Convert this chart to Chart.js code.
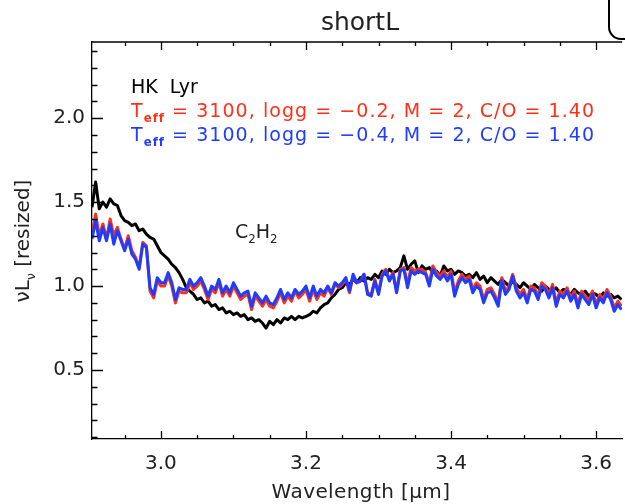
<!DOCTYPE html>
<html>
<head>
<meta charset="utf-8">
<script src="https://cdn.jsdelivr.net/npm/chart.js@4.4.0/dist/chart.umd.min.js"></script>
<style>
  html, body { margin: 0; padding: 0; background: #fff; overflow: hidden; }
  #wrap { width: 625px; height: 504px; }
</style>
</head>
<body>
<div id="wrap"><canvas id="specChart" width="625" height="504"></canvas></div>
<script>
// wavelength grid in micron
const wavelength = [
  2.905, 2.910, 2.915, 2.920, 2.925, 2.930, 2.935, 2.940, 2.945, 2.950,
  2.955, 2.960, 2.965, 2.970, 2.975, 2.980, 2.985, 2.990, 2.995, 3.000,
  3.005, 3.010, 3.015, 3.020, 3.025, 3.030, 3.035, 3.040, 3.045, 3.050,
  3.055, 3.060, 3.065, 3.070, 3.075, 3.080, 3.085, 3.090, 3.095, 3.100,
  3.105, 3.110, 3.115, 3.120, 3.125, 3.130, 3.135, 3.140, 3.145, 3.150,
  3.155, 3.160, 3.165, 3.170, 3.175, 3.180, 3.185, 3.190, 3.195, 3.200,
  3.205, 3.210, 3.215, 3.220, 3.225, 3.230, 3.235, 3.240, 3.245, 3.250,
  3.255, 3.260, 3.265, 3.270, 3.275, 3.280, 3.285, 3.290, 3.295, 3.300,
  3.305, 3.310, 3.315, 3.320, 3.325, 3.330, 3.335, 3.340, 3.345, 3.350,
  3.355, 3.360, 3.365, 3.370, 3.375, 3.380, 3.385, 3.390, 3.395, 3.400,
  3.405, 3.410, 3.415, 3.420, 3.425, 3.430, 3.435, 3.440, 3.445, 3.450,
  3.455, 3.460, 3.465, 3.470, 3.475, 3.480, 3.485, 3.490, 3.495, 3.500,
  3.505, 3.510, 3.515, 3.520, 3.525, 3.530, 3.535, 3.540, 3.545, 3.550,
  3.555, 3.560, 3.565, 3.570, 3.575, 3.580, 3.585, 3.590, 3.595, 3.600,
  3.605, 3.610, 3.615, 3.620, 3.625, 3.630, 3.635
];

// observed spectrum, HK Lyr
const hkLyr = [
  1.47, 1.62, 1.46, 1.50, 1.47, 1.52, 1.49, 1.48, 1.42, 1.39,
  1.38, 1.36, 1.37, 1.33, 1.34, 1.31, 1.29, 1.28, 1.24, 1.20,
  1.18, 1.16, 1.13, 1.11, 1.08, 1.04, 0.99, 0.97, 0.95, 0.92,
  0.93, 0.90, 0.91, 0.88, 0.89, 0.86, 0.87, 0.84, 0.85, 0.83,
  0.84, 0.82, 0.83, 0.80, 0.81, 0.79, 0.80, 0.78, 0.75, 0.79,
  0.77, 0.80, 0.78, 0.81, 0.80, 0.82, 0.80, 0.82, 0.81, 0.82,
  0.83, 0.85, 0.84, 0.87, 0.89, 0.90, 0.93, 0.95, 0.98, 0.99,
  1.02, 1.01, 1.04, 1.02, 1.05, 1.03, 1.05, 1.04, 1.07, 1.05,
  1.09, 1.07, 1.10, 1.08, 1.09, 1.11, 1.18, 1.10, 1.13, 1.15,
  1.08, 1.12, 1.10, 1.11, 1.08, 1.09, 1.06, 1.12, 1.09, 1.10,
  1.07, 1.09, 1.08, 1.06, 1.07, 1.05, 1.08, 1.04, 1.06, 1.02,
  1.05, 1.03, 1.01, 1.04, 1.02, 1.00, 1.03, 1.01, 0.99, 1.02,
  1.00, 0.98, 1.01, 0.99, 0.97, 1.00, 0.98, 0.97, 0.99, 0.96,
  0.98, 0.97, 0.95, 0.98, 0.96, 0.95, 0.97, 0.94, 0.96, 0.95,
  0.93, 0.96, 0.94, 0.95, 0.93, 0.94, 0.92
];

// model, Teff 3100, logg -0.2
const modelLoggM02 = [
  1.31, 1.43, 1.30, 1.37, 1.28, 1.40, 1.30, 1.35, 1.28, 1.22,
  1.30, 1.21, 1.17, 1.11, 1.26, 1.24, 0.97, 0.93, 1.03, 1.00,
  1.00, 1.06, 1.00, 0.90, 0.97, 0.96, 0.96, 1.02, 0.98, 1.00,
  1.03, 0.98, 0.92, 0.98, 0.96, 1.02, 0.94, 0.98, 0.94, 1.00,
  0.96, 0.92, 0.94, 0.95, 0.86, 0.94, 0.91, 0.88, 0.92, 0.88,
  0.87, 0.91, 0.96, 0.90, 0.94, 0.91, 0.97, 0.93, 0.95, 0.98,
  0.91, 0.98, 0.92, 0.96, 0.94, 0.99, 0.95, 1.01, 0.99, 1.01,
  1.04, 0.96, 1.06, 1.02, 1.03, 1.07, 0.96, 0.95, 1.04, 0.96,
  1.07, 1.10, 1.04, 1.08, 0.97, 1.10, 1.11, 1.01, 1.11, 1.09,
  1.10, 1.10, 1.08, 1.02, 1.12, 1.08, 1.06, 1.09, 1.05, 1.09,
  0.96, 1.03, 1.07, 1.04, 1.06, 0.98, 1.02, 1.00, 0.92, 0.98,
  0.99, 0.95, 0.90, 1.05, 0.97, 1.00, 1.07, 0.99, 0.95, 0.98,
  0.92, 1.00, 0.99, 0.94, 1.02, 1.00, 0.95, 1.01, 0.90, 0.97,
  0.95, 0.99, 0.93, 0.97, 0.89, 0.97, 0.94, 0.91, 0.97, 0.89,
  0.95, 0.92, 0.98, 0.94, 0.87, 0.91, 0.88
];

// model, Teff 3100, logg -0.4
const modelLoggM04 = [
  1.28, 1.39, 1.27, 1.35, 1.27, 1.37, 1.25, 1.33, 1.27, 1.21,
  1.28, 1.19, 1.16, 1.10, 1.25, 1.23, 0.99, 0.95, 1.05, 1.02,
  1.02, 1.08, 1.02, 0.92, 0.99, 0.98, 0.98, 1.04, 1.00, 1.02,
  1.05, 1.00, 0.94, 1.00, 0.98, 1.04, 0.96, 1.00, 0.96, 1.02,
  0.98, 0.94, 0.96, 0.97, 0.88, 0.96, 0.93, 0.90, 0.94, 0.90,
  0.89, 0.93, 0.98, 0.92, 0.96, 0.93, 0.98, 0.95, 0.97, 1.00,
  0.93, 1.00, 0.94, 0.98, 0.96, 1.00, 0.96, 1.02, 1.00, 1.02,
  1.05, 0.97, 1.07, 1.02, 1.03, 1.07, 0.95, 0.94, 1.03, 0.95,
  1.06, 1.09, 1.03, 1.07, 0.96, 1.09, 1.10, 0.99, 1.09, 1.07,
  1.09, 1.08, 1.07, 1.00, 1.10, 1.06, 1.04, 1.07, 1.03, 1.07,
  0.94, 1.01, 1.05, 1.02, 1.04, 0.96, 1.00, 0.98, 0.90, 0.96,
  0.97, 0.93, 0.88, 1.03, 0.95, 0.98, 1.06, 0.97, 0.93, 0.96,
  0.90, 0.98, 0.97, 0.92, 1.00, 0.98, 0.93, 0.99, 0.88, 0.95,
  0.93, 0.97, 0.91, 0.95, 0.87, 0.95, 0.92, 0.89, 0.95, 0.87,
  0.93, 0.90, 0.96, 0.92, 0.85, 0.89, 0.86
];

const xMajorTicks = [3.0, 3.2, 3.4, 3.6];
const xMinorTicks = [2.95, 3.05, 3.1, 3.15, 3.25, 3.3, 3.35, 3.45, 3.5, 3.55];
const yMajorTicks = [0.5, 1.0, 1.5, 2.0];
const yMinorTicks = [0.1, 0.2, 0.3, 0.4, 0.6, 0.7, 0.8, 0.9, 1.1, 1.2, 1.3, 1.4,
  1.6, 1.7, 1.8, 1.9, 2.1, 2.2, 2.3, 2.4];

const FONT = '"DejaVu Sans", sans-serif';
const RED = '#ff3019';
const BLUE = '#1f3cff';
const INK = '#222';

function toPoints(ys) {
  return wavelength.map((x, i) => ({ x: x, y: ys[i] }));
}

// draws text with optional subscript parts, returns end x
function drawRich(ctx, parts, x, y, size, color, spacing) {
  ctx.fillStyle = color;
  ctx.textAlign = 'left';
  ctx.textBaseline = 'alphabetic';
  ctx.letterSpacing = (spacing || 0) + 'px';
  let cx = x;
  parts.forEach((p) => {
    const s = p.sub ? size * 0.62 : size;
    ctx.font = (p.bold ? 'bold ' : '') + s + 'px ' + FONT;
    ctx.fillText(p.t, cx, p.sub ? y + size * 0.28 : y);
    cx += ctx.measureText(p.t).width;
  });
  ctx.letterSpacing = '0px';
  return cx;
}

function richWidth(ctx, parts, size) {
  let w = 0;
  parts.forEach((p) => {
    const s = p.sub ? size * 0.62 : size;
    ctx.font = (p.bold ? 'bold ' : '') + s + 'px ' + FONT;
    w += ctx.measureText(p.t).width;
  });
  return w;
}

const decorPlugin = {
  id: 'decor',
  afterDraw(chart) {
    const ctx = chart.ctx;
    const area = chart.chartArea;
    const xs = chart.scales.x;
    const ys = chart.scales.y;
    ctx.save();

    // top axis line and inward ticks (IDL style)
    ctx.strokeStyle = '#000';
    ctx.lineWidth = 1.3;
    ctx.beginPath();
    ctx.moveTo(area.left, area.top);
    ctx.lineTo(area.right, area.top);
    xMajorTicks.forEach((v) => {
      const px = Math.round(xs.getPixelForValue(v)) + 0.5;
      ctx.moveTo(px, area.bottom); ctx.lineTo(px, area.bottom - 8);
      ctx.moveTo(px, area.top); ctx.lineTo(px, area.top + 8);
    });
    xMinorTicks.forEach((v) => {
      const px = Math.round(xs.getPixelForValue(v)) + 0.5;
      ctx.moveTo(px, area.bottom); ctx.lineTo(px, area.bottom - 4);
      ctx.moveTo(px, area.top); ctx.lineTo(px, area.top + 4);
    });
    yMajorTicks.forEach((v) => {
      const py = Math.round(ys.getPixelForValue(v)) + 0.5;
      ctx.moveTo(area.left, py); ctx.lineTo(area.left + 11, py);
    });
    yMinorTicks.forEach((v) => {
      const py = Math.round(ys.getPixelForValue(v)) + 0.5;
      ctx.moveTo(area.left, py); ctx.lineTo(area.left + 5.5, py);
    });
    ctx.stroke();

    // rounded corner of the neighbouring panel
    ctx.lineWidth = 2;
    ctx.beginPath();
    ctx.moveTo(609, 0);
    ctx.lineTo(609, 27);
    ctx.arcTo(609, 39, 621, 39, 12);
    ctx.lineTo(626, 39);
    ctx.stroke();

    // title
    ctx.fillStyle = INK;
    ctx.font = '25px ' + FONT;
    ctx.textAlign = 'center';
    ctx.textBaseline = 'alphabetic';
    ctx.fillText('shortL', 360, 30);

    // x axis title
    ctx.font = '20px ' + FONT;
    ctx.letterSpacing = '0.4px';
    ctx.fillText('Wavelength [\u03bcm]', 361, 498);
    ctx.letterSpacing = '0px';

    // y axis title, rotated
    const yTitle = [{ t: '\u03bdL' }, { t: '\u03bd', sub: true }, { t: ' [resized]' }];
    ctx.save();
    ctx.translate(29, 241);
    ctx.rotate(-Math.PI / 2);
    const w = richWidth(ctx, yTitle, 20);
    drawRich(ctx, yTitle, -w / 2, 0, 20, INK);
    ctx.restore();

    // legend text
    drawRich(ctx, [{ t: 'HK  Lyr' }], 131, 93, 19, '#000');
    drawRich(ctx, [{ t: 'T' }, { t: 'eff', sub: true, bold: true },
      { t: ' = 3100, logg = \u22120.2, M = 2, C/O = 1.40' }], 131, 117, 19, RED, 1.05);
    drawRich(ctx, [{ t: 'T' }, { t: 'eff', sub: true, bold: true },
      { t: ' = 3100, logg = \u22120.4, M = 2, C/O = 1.40' }], 131, 141, 19, BLUE, 1.05);

    // molecule label
    drawRich(ctx, [{ t: 'C' }, { t: '2', sub: true }, { t: 'H' }, { t: '2', sub: true }],
      235, 238, 19, INK);

    ctx.restore();
  }
};

const ctx = document.getElementById('specChart').getContext('2d');
new Chart(ctx, {
  type: 'line',
  data: {
    datasets: [
      { label: 'logg -0.4', data: toPoints(modelLoggM04), borderColor: BLUE, order: 1 },
      { label: 'logg -0.2', data: toPoints(modelLoggM02), borderColor: RED, order: 2 },
      { label: 'HK Lyr', data: toPoints(hkLyr), borderColor: '#000', order: 3 },
    ],
  },
  options: {
    responsive: false,
    animation: false,
    layout: { padding: { top: 42, right: 0, left: 0, bottom: 0 } },
    elements: {
      line: { borderWidth: 3, tension: 0, borderJoinStyle: 'round' },
      point: { radius: 0 },
    },
    plugins: {
      legend: { display: false },
      tooltip: { enabled: false },
      title: { display: false },
    },
    scales: {
      x: {
        type: 'linear',
        min: 2.905,
        max: 3.636,
        grid: { display: false, drawTicks: false },
        border: { display: true, color: '#000', width: 1.3 },
        afterBuildTicks: (scale) => {
          scale.ticks = xMajorTicks.map((v) => ({ value: v }));
        },
        afterFit: (scale) => { scale.height = 65; },
        ticks: {
          autoSkip: false,
          maxRotation: 0,
          padding: 13,
          color: INK,
          font: { family: FONT, size: 20 },
          callback: (v) => v.toFixed(1),
        },
      },
      y: {
        min: 0.089,
        max: 2.454,
        grid: { display: false, drawTicks: false },
        border: { display: true, color: '#000', width: 1.3 },
        afterBuildTicks: (scale) => {
          scale.ticks = yMajorTicks.map((v) => ({ value: v }));
        },
        afterFit: (scale) => { scale.width = 92; },
        ticks: {
          padding: 7,
          color: INK,
          font: { family: FONT, size: 20 },
          callback: (v) => v.toFixed(1),
        },
      },
    },
  },
  plugins: [decorPlugin],
});
</script>
</body>
</html>
